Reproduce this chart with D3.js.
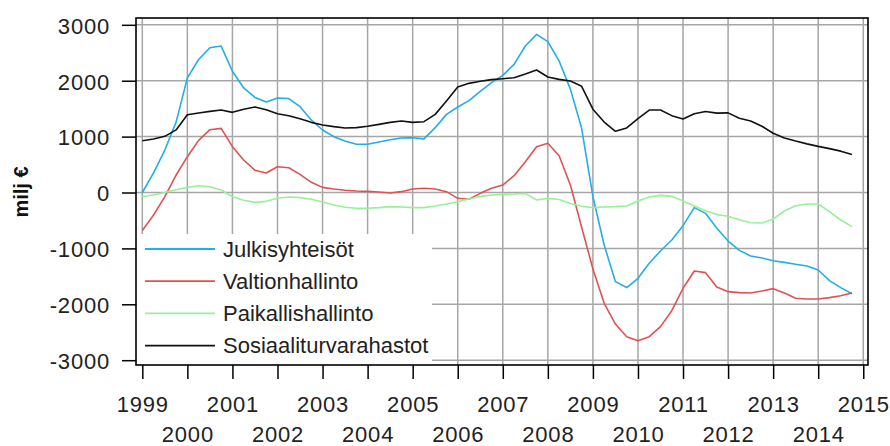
<!DOCTYPE html>
<html>
<head>
<meta charset="utf-8">
<script src="https://cdn.jsdelivr.net/npm/d3@7"></script>
<style>
  body { margin: 0; background: #fff; }
  svg { display: block; font-family: "Liberation Sans", Arial, sans-serif; }
</style>
</head>
<body>
<svg width="890" height="446"></svg>
<script>
// quarterly data 1999Q1 - 2014Q4, milj €
var years = d3.range(1999, 2015);
var quarters = [0, 0.25, 0.5, 0.75];

var julkisyhteisot = [0, 350, 760, 1260, 2050, 2380, 2590, 2620, 2170, 1870, 1700, 1620, 1690, 1680, 1535, 1297,
  1118, 999, 921, 862, 862, 903, 945, 975, 981, 960, 1160, 1398, 1530, 1643, 1810, 1965,
  2096, 2293, 2621, 2829, 2698, 2352, 1850, 1148, -75, -940, -1595, -1700, -1535, -1267, -1046, -850,
  -593, -271, -373, -640, -868, -1035, -1136, -1172, -1220, -1250, -1285, -1315, -1386, -1577, -1702, -1810];

var valtionhallinto = [-680, -403, -75, 313, 641, 933, 1124, 1148, 820, 581, 397, 349, 462, 444, 325, 182,
  92, 63, 39, 27, 21, 9, -9, 15, 63, 75, 63, 15, -104, -122, -15, 75,
  134, 301, 552, 820, 880, 659, 134, -623, -1368, -1983, -2353, -2579, -2651, -2579, -2400, -2114,
  -1714, -1404, -1434, -1690, -1774, -1792, -1798, -1762, -1720, -1798, -1893, -1905, -1905, -1881, -1846, -1798];

var paikallishallinto = [-70, -45, 0, 50, 92, 122, 104, 45, -75, -140, -176, -158, -104, -80, -92, -122,
  -170, -224, -265, -283, -283, -271, -253, -259, -271, -271, -241, -206, -164, -116, -69, -45,
  -33, -27, -15, -134, -105, -125, -195, -247, -271, -259, -253, -241, -152, -80, -51, -69,
  -152, -241, -325, -395, -426, -486, -540, -546, -474, -331, -236, -206, -206, -343, -492, -610];

var sosiaaliturvarahastot = [927, 957, 1005, 1120, 1392, 1422, 1452, 1476, 1434, 1488, 1529, 1482, 1410, 1374, 1320, 1255,
  1207, 1178, 1154, 1160, 1184, 1219, 1255, 1279, 1255, 1267, 1398, 1637, 1887, 1953, 1989, 2019,
  2036, 2054, 2120, 2191, 2066, 2024, 1995, 1900, 1490, 1260, 1095, 1155, 1320, 1475, 1475, 1375,
  1315, 1410, 1450, 1420, 1425, 1330, 1280, 1185, 1060, 975, 920, 870, 825, 785, 740, 680];

var seriesNames = ["Julkisyhteisöt", "Valtionhallinto", "Paikallishallinto", "Sosiaaliturvarahastot"];
var seriesColors = ["#22aee6", "#e05252", "#98f098", "#111111"];
var yTicks = [-3000, -2000, -1000, 0, 1000, 2000, 3000];
var xTicks = d3.range(1999, 2016);

var times = [];
years.forEach(function(yr) { quarters.forEach(function(q) { times.push(yr + q); }); });

var series = [julkisyhteisot, valtionhallinto, paikallishallinto, sosiaaliturvarahastot].map(function(vals, i) {
  return { name: seriesNames[i], color: seriesColors[i],
           values: vals.map(function(v, j) { return { t: times[j], v: v }; }) };
});

var svg = d3.select("svg");
var plotLeft = 136, plotRight = 868, plotTop = 18, plotBottom = 365;

var x = d3.scaleLinear().domain([1998.86, 2015.105]).range([plotLeft, plotRight]);
var y = d3.scaleLinear().domain([-3086, 3122]).range([plotBottom, plotTop]);

// grid
var grid = svg.append("g").attr("stroke", "#a6a6a6").attr("stroke-width", 1.5);
grid.selectAll(".gx").data(xTicks).enter().append("line")
    .attr("x1", function(d) { return x(d); }).attr("x2", function(d) { return x(d); })
    .attr("y1", plotTop).attr("y2", plotBottom);
grid.selectAll(".gy").data(yTicks).enter().append("line")
    .attr("x1", plotLeft).attr("x2", plotRight)
    .attr("y1", function(d) { return y(d); }).attr("y2", function(d) { return y(d); });

svg.append("clipPath").attr("id", "clip")
  .append("rect").attr("x", plotLeft).attr("y", plotTop)
    .attr("width", plotRight - plotLeft).attr("height", plotBottom - plotTop);

var line = d3.line()
    .x(function(d) { return x(d.t); })
    .y(function(d) { return y(d.v); });

svg.append("g").attr("clip-path", "url(#clip)")
  .selectAll("path").data(series).enter().append("path")
    .attr("fill", "none")
    .attr("stroke", function(d) { return d.color; })
    .attr("stroke-width", 1.6)
    .attr("stroke-linejoin", "round")
    .attr("d", function(d) { return line(d.values); });

// legend
var legend = svg.append("g");
legend.append("rect")
    .attr("x", plotLeft + 1).attr("y", 234).attr("width", 295).attr("height", plotBottom - 234)
    .attr("fill", "#fff");
var item = legend.selectAll(".item").data(series).enter().append("g")
    .attr("transform", function(d, i) { return "translate(0," + (249 + i * 32.2) + ")"; });
item.append("line")
    .attr("x1", 145).attr("x2", 215)
    .attr("stroke", function(d) { return d.color; })
    .attr("stroke-width", 1.8);
item.append("text")
    .attr("x", 223).attr("y", 7.5)
    .attr("font-size", 22).attr("fill", "#222")
    .text(function(d) { return d.name; });

// frame
svg.append("rect")
    .attr("x", plotLeft).attr("y", plotTop)
    .attr("width", plotRight - plotLeft).attr("height", plotBottom - plotTop)
    .attr("fill", "none").attr("stroke", "#000").attr("stroke-width", 1.6);

// axes
var yAxis = svg.append("g")
    .attr("transform", "translate(" + plotLeft + ",0)")
    .call(d3.axisLeft(y).tickValues(yTicks).tickSize(14).tickPadding(12)
      .tickFormat(function(d) { return String(d); }));
yAxis.select(".domain").remove();
yAxis.selectAll("line").attr("stroke", "#000").attr("stroke-width", 1.5);
yAxis.selectAll("text")
    .attr("font-size", 22).attr("font-family", "Liberation Sans, Arial, sans-serif")
    .attr("letter-spacing", 0.8).attr("fill", "#222").attr("dy", "0.38em");

var xAxis = svg.append("g")
    .attr("transform", "translate(0," + plotBottom + ")")
    .call(d3.axisBottom(x).tickValues(xTicks).tickSize(14).tickFormat(d3.format("d")));
xAxis.select(".domain").remove();
xAxis.selectAll("line").attr("stroke", "#000").attr("stroke-width", 1.5);
xAxis.selectAll("text")
    .attr("font-size", 22).attr("font-family", "Liberation Sans, Arial, sans-serif")
    .attr("letter-spacing", 0.8).attr("fill", "#222")
    .attr("dy", 0)
    .attr("y", function(d) { return d % 2 === 1 ? 47 : 77; });

// y label
svg.append("text")
    .attr("transform", "translate(28,192) rotate(-90)")
    .attr("text-anchor", "middle")
    .attr("font-size", 20).attr("font-weight", "bold").attr("fill", "#111")
    .text("milj €");
</script>
</body>
</html>
